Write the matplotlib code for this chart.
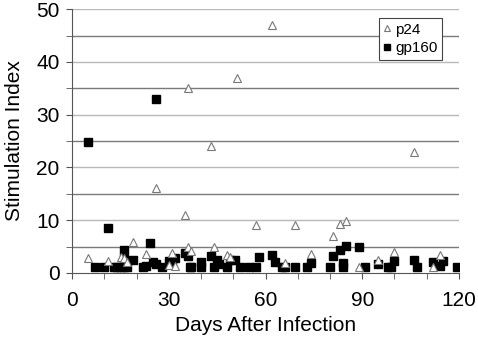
import numpy as np
import matplotlib
matplotlib.use("Agg")
import matplotlib.pyplot as plt
from matplotlib.ticker import MultipleLocator

plt.rcParams['font.family'] = ['Liberation Sans', 'DejaVu Sans']

# p24 (open triangles)
p24_day = [5, 11, 15, 16, 17, 19, 23, 26, 30, 31, 32, 35, 36, 36, 37, 43, 44, 48, 49,
           51, 57, 62, 66, 69, 74, 81, 83, 85, 89, 95, 100, 106, 112, 114]
p24_si = [2.8, 2.2, 3.0, 2.8, 2.0, 5.8, 3.6, 16, 1.5, 3.7, 1.4, 11, 35, 5.0, 4.1, 24, 5.0, 3.3, 3.0,
          37, 9.0, 47, 1.8, 9.0, 3.6, 7.0, 9.2, 9.8, 1.2, 2.4, 4.0, 23, 1.2, 3.3]

# gp160 (filled squares)
gp_day = [5, 7, 10, 11, 13, 14, 15, 16, 16, 16, 17, 19, 22, 23, 24, 25, 26, 26, 28, 30,
          31, 32, 35, 36, 36.5, 37, 40, 40, 43, 44, 45, 45.5, 48, 49, 50.5, 52, 55, 57,
          58, 62, 63, 65, 66, 69, 73, 74, 80, 81, 83, 84, 84, 85, 89, 91, 95, 98, 99,
          100, 106, 107, 112, 114, 115, 119.5]
gp_si = [24.8, 1.1, 1.1, 8.6, 1.1, 1.1, 1.1, 4.3, 2.8, 1.2, 1.1, 2.4, 1.1, 1.3, 5.6, 2.0, 33, 1.6, 1.1, 2.2,
         1.9, 2.8, 3.8, 3.2, 1.1, 1.1, 2.0, 1.1, 3.2, 1.2, 2.5, 1.7, 1.1, 2.5, 2.5, 1.1, 1.1, 1.1,
         3.0, 3.3, 2.0, 1.2, 1.2, 1.1, 1.1, 1.8, 1.1, 3.2, 4.3, 1.9, 1.1, 5.1, 5.0, 1.1, 1.7, 1.1, 1.1,
         2.2, 2.4, 1.1, 2.0, 1.3, 2.2, 1.1]

fig = plt.figure(figsize=(4.78, 3.39), dpi=100)
ax = fig.add_axes([0.151, 0.195, 0.809, 0.778])

# horizontal grid: darker at odd multiples of 5, lighter at multiples of 10
for yv in range(5, 51, 5):
    col = '#7a7a7a' if yv % 10 else '#b8b8b8'
    ax.axhline(yv, color=col, lw=1.0, zorder=0)

ax.plot(p24_day, p24_si, ls='none', marker='^', ms=5.5, mfc='white', mec='#777777',
        mew=0.8, label='p24', zorder=3)
ax.plot(gp_day, gp_si, ls='none', marker='s', ms=5.5, mfc='black', mec='black',
        label='gp160', zorder=2)

ax.set_xlim(0, 120)
ax.set_ylim(0, 50)
ax.xaxis.set_major_locator(MultipleLocator(30))
ax.xaxis.set_minor_locator(MultipleLocator(10))
ax.yaxis.set_major_locator(MultipleLocator(10))
ax.yaxis.set_minor_locator(MultipleLocator(5))
ax.tick_params(axis='both', which='both', direction='out', color='#555555', labelsize=15)
ax.tick_params(axis='x', which='major', length=4, pad=9)
ax.tick_params(axis='x', which='minor', length=4)
ax.tick_params(axis='y', which='both', length=4, pad=5)

for s in ['top', 'right']:
    ax.spines[s].set_visible(False)
for s in ['left', 'bottom']:
    ax.spines[s].set_color('#555555')

ax.set_xlabel('Days After Infection', fontsize=15, labelpad=4)
ax.set_ylabel('Stimulation Index', fontsize=15, labelpad=9)

leg = ax.legend(loc='upper right', bbox_to_anchor=(0.956, 0.966), borderaxespad=0,
                fontsize=11, frameon=True, fancybox=False, edgecolor='#444444', framealpha=1,
                handlelength=0.4, handletextpad=0.35, borderpad=0.3, labelspacing=0.3,
                markerscale=0.7)
leg.get_frame().set_linewidth(0.8)

fig.savefig('out.png', dpi=100)
